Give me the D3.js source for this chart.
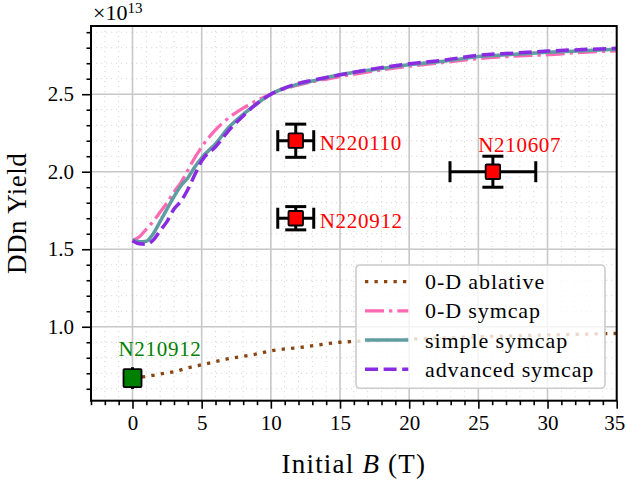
<!DOCTYPE html>
<html>
<head>
<meta charset="utf-8">
<script src="https://cdn.jsdelivr.net/npm/d3@7"></script>
<style>
  body { margin: 0; background: #fff; }
  text { font-family: "Liberation Serif", serif; }
</style>
</head>
<body>
<div id="chart"></div>
<script>
// field values (B in T), yields in units of 1e13
var bField = [0, 0.5, 1, 1.5, 2, 2.5, 3, 3.5, 4, 4.5, 5, 6, 7, 8, 9, 10, 11, 12, 13, 15, 17.5, 20, 22.5, 25, 27.5, 30, 32.5, 35];
var symcap0D = [1.555, 1.58, 1.63, 1.68, 1.74, 1.80, 1.87, 1.93, 2.01, 2.09, 2.16, 2.27, 2.35, 2.41, 2.46, 2.50, 2.535, 2.56, 2.58, 2.614, 2.65, 2.68, 2.705, 2.73, 2.745, 2.755, 2.77, 2.78];
var simpleSymcap = [1.56, 1.548, 1.552, 1.60, 1.68, 1.76, 1.84, 1.91, 1.96, 2.03, 2.09, 2.18, 2.29, 2.37, 2.44, 2.50, 2.54, 2.565, 2.585, 2.625, 2.66, 2.69, 2.712, 2.743, 2.757, 2.77, 2.78, 2.79];
var advSymcap = [1.555, 1.535, 1.532, 1.56, 1.62, 1.68, 1.76, 1.81, 1.885, 1.98, 2.07, 2.16, 2.27, 2.36, 2.44, 2.50, 2.54, 2.57, 2.59, 2.625, 2.665, 2.696, 2.72, 2.751, 2.765, 2.778, 2.788, 2.796];

var ablB = [0, 1, 2, 3, 4, 5, 6, 7, 8, 9, 10, 12, 15, 17.5, 20, 25, 30, 35];
var ablative0D = [0.67, 0.68, 0.695, 0.71, 0.735, 0.755, 0.775, 0.795, 0.81, 0.825, 0.845, 0.865, 0.90, 0.91, 0.92, 0.935, 0.947, 0.957];

// shots
var shotNames = ["N220110", "N220912", "N210607", "N210912"];
var shotB = [11.8, 11.8, 26.05, 0];
var shotY = [2.2, 1.7, 2.0, 0.669];
var shotBerr = [1.3, 1.3, 3.1, 0];
var shotYerr = [0.107, 0.075, 0.1, 0.07];
var shotColor = ["#ff0000", "#ff0000", "#ff0000", "#008000"];

var xTicks = [0, 5, 10, 15, 20, 25, 30, 35];
var yTicks = [1.0, 1.5, 2.0, 2.5];

var svgWidth = 626, svgHeight = 481;
var margin = {top: 26, right: 9.3, bottom: 80.3, left: 91};
var chartWidth = svgWidth - margin.left - margin.right;
var chartHeight = svgHeight - margin.top - margin.bottom;

var svg = d3.select("#chart").append("svg")
  .attr("width", svgWidth)
  .attr("height", svgHeight);

var chartGroup = svg.append("g")
  .attr("transform", `translate(${margin.left}, ${margin.top})`);

var xScale = d3.scaleLinear().domain([-3, 35]).range([0, chartWidth]);
var yScale = d3.scaleLinear().domain([0.523, 2.94]).range([chartHeight, 0]);

var xMinor = d3.range(-3, 36, 1);
var yMinor = d3.range(0.6, 2.95, 0.1);

// minor grid (dotted)
chartGroup.append("g").selectAll("line")
  .data(xMinor).enter().append("line")
  .attr("x1", d => xScale(d)).attr("x2", d => xScale(d))
  .attr("y1", 0).attr("y2", chartHeight)
  .attr("stroke", "#d8d8d8").attr("stroke-width", 1).attr("stroke-dasharray", "1.2,3.8");
chartGroup.append("g").selectAll("line")
  .data(yMinor).enter().append("line")
  .attr("x1", 0).attr("x2", chartWidth)
  .attr("y1", d => yScale(d)).attr("y2", d => yScale(d))
  .attr("stroke", "#d8d8d8").attr("stroke-width", 1).attr("stroke-dasharray", "1.2,3.8");

// major grid
chartGroup.append("g").selectAll("line")
  .data(xTicks).enter().append("line")
  .attr("x1", d => xScale(d)).attr("x2", d => xScale(d))
  .attr("y1", 0).attr("y2", chartHeight)
  .attr("stroke", "#c8c8c8").attr("stroke-width", 1.6);
chartGroup.append("g").selectAll("line")
  .data(yTicks).enter().append("line")
  .attr("x1", 0).attr("x2", chartWidth)
  .attr("y1", d => yScale(d)).attr("y2", d => yScale(d))
  .attr("stroke", "#c8c8c8").attr("stroke-width", 1.6);

// clip for curves
svg.append("defs").append("clipPath").attr("id", "clip")
  .append("rect").attr("width", chartWidth).attr("height", chartHeight);

var plotArea = chartGroup.append("g").attr("clip-path", "url(#clip)");

var series = [
  {name: "0-D ablative", xs: ablB, ys: ablative0D, color: "#8b4513", width: 3.3, dash: "3.3,6.2"},
  {name: "0-D symcap", xs: bField, ys: symcap0D, color: "#ff69b4", width: 3.3, dash: "19,5,3.3,5"},
  {name: "simple symcap", xs: bField, ys: simpleSymcap, color: "#5f9ea0", width: 3.5, dash: null},
  {name: "advanced symcap", xs: bField, ys: advSymcap, color: "#8a2be2", width: 3.5, dash: "13,5.6"}
];

var line = d3.line()
  .x(d => xScale(d[0]))
  .y(d => yScale(d[1]))
  .curve(d3.curveMonotoneX);

series.forEach(function(s) {
  plotArea.append("path")
    .datum(s.xs.map((x, i) => [x, s.ys[i]]))
    .attr("d", line)
    .attr("fill", "none")
    .attr("stroke", s.color)
    .attr("stroke-width", s.width)
    .attr("stroke-dasharray", s.dash);
});

// error bars + markers
var shots = shotNames.map((n, i) => ({name: n, b: shotB[i], y: shotY[i], be: shotBerr[i], ye: shotYerr[i], color: shotColor[i]}));
var cap = 10.5;
shots.forEach(function(s) {
  var g = chartGroup.append("g");
  var cx = xScale(s.b), cy = yScale(s.y);
  if (s.be > 0) {
    g.append("line").attr("x1", xScale(s.b - s.be)).attr("x2", xScale(s.b + s.be))
      .attr("y1", cy).attr("y2", cy).attr("stroke", "#000").attr("stroke-width", 3);
    [s.b - s.be, s.b + s.be].forEach(function(v) {
      g.append("line").attr("x1", xScale(v)).attr("x2", xScale(v))
        .attr("y1", cy - cap).attr("y2", cy + cap).attr("stroke", "#000").attr("stroke-width", 3);
    });
  }
  g.append("line").attr("x1", cx).attr("x2", cx)
    .attr("y1", yScale(s.y - s.ye)).attr("y2", yScale(s.y + s.ye)).attr("stroke", "#000").attr("stroke-width", 3);
  if (s.be > 0) {
    [s.y - s.ye, s.y + s.ye].forEach(function(v) {
      g.append("line").attr("x1", cx - cap).attr("x2", cx + cap)
        .attr("y1", yScale(v)).attr("y2", yScale(v)).attr("stroke", "#000").attr("stroke-width", 3);
    });
  }
  var sz = s.color == "#008000" ? 18 : 14.5;
  g.append("rect")
    .attr("x", cx - sz / 2).attr("y", cy - sz / 2)
    .attr("width", sz).attr("height", sz)
    .attr("rx", 1)
    .attr("fill", s.color).attr("stroke", "#000").attr("stroke-width", 1.8);
});

// shot labels
var labelPos = {
  "N220110": [24, 9.5],
  "N220912": [24, 9.5],
  "N210607": [-14.7, -20],
  "N210912": [-14, -22]
};
shots.forEach(function(s) {
  var p = labelPos[s.name];
  chartGroup.append("text")
    .attr("x", xScale(s.b) + p[0])
    .attr("y", yScale(s.y) + p[1])
    .attr("fill", s.color)
    .attr("font-size", 21)
    .attr("letter-spacing", 0.7)
    .text(s.name);
});

// axes
var xAxis = d3.axisBottom(xScale).tickValues(xTicks).tickSize(8).tickPadding(6).tickFormat(d3.format("d"));
var yAxis = d3.axisLeft(yScale).tickValues(yTicks).tickSize(9).tickPadding(8).tickFormat(d3.format(".1f"));
var xAxisMinor = d3.axisBottom(xScale).tickValues(xMinor.filter(d => xTicks.indexOf(d) < 0)).tickSize(4.5).tickFormat("");
var yAxisMinor = d3.axisLeft(yScale).tickValues(yMinor.filter(d => Math.abs(d * 2 - Math.round(d * 2)) > 0.01)).tickSize(4.5).tickFormat("");

function styleAxis(g) {
  g.select(".domain").remove();
  g.selectAll("line").attr("stroke", "#000").attr("stroke-width", 1.6);
  g.selectAll("text").attr("font-family", "Liberation Serif").attr("font-size", 21).attr("fill", "#000");
}

var xg = chartGroup.append("g").attr("transform", `translate(0, ${chartHeight})`).call(xAxis).call(styleAxis);
// last label sits right on the page edge, pull it in a touch
xg.selectAll(".tick text").filter(d => d == 35).attr("dx", -2.5);
chartGroup.append("g").attr("transform", `translate(0, ${chartHeight})`).call(xAxisMinor).call(styleAxis);
chartGroup.append("g").call(yAxis).call(styleAxis);
chartGroup.append("g").call(yAxisMinor).call(styleAxis);

// frame
chartGroup.append("rect")
  .attr("width", chartWidth).attr("height", chartHeight)
  .attr("fill", "none").attr("stroke", "#000").attr("stroke-width", 2);

// legend
var legend = chartGroup.append("g").attr("transform", `translate(${356 - margin.left}, ${265 - margin.top})`);
legend.append("rect")
  .attr("width", 249).attr("height", 123.3).attr("rx", 4)
  .attr("fill", "#fff").attr("fill-opacity", 0.8)
  .attr("stroke", "#cccccc").attr("stroke-width", 1.6);
series.forEach(function(s, i) {
  var ly = 16.7 + i * 29.2;
  legend.append("line")
    .attr("x1", 9).attr("x2", 52.3).attr("y1", ly).attr("y2", ly)
    .attr("stroke", s.color).attr("stroke-width", s.width)
    .attr("stroke-dasharray", s.dash);
  legend.append("text")
    .attr("x", 69).attr("y", ly + 7.5)
    .attr("font-size", 22).attr("letter-spacing", 0.9)
    .text(s.name);
});

// axis titles
svg.append("text")
  .attr("x", margin.left + chartWidth / 2).attr("y", 473)
  .attr("text-anchor", "middle").attr("font-size", 27).attr("letter-spacing", 1.2)
  .html('Initial <tspan font-style="italic">B</tspan> (T)');
svg.append("text")
  .attr("transform", `translate(26, ${margin.top + chartHeight / 2}) rotate(-90)`)
  .attr("text-anchor", "middle").attr("font-size", 27).attr("letter-spacing", 0.5)
  .text("DDn Yield");

// offset text
var off = svg.append("text").attr("x", 93).attr("y", 19.5).attr("font-size", 22);
off.append("tspan").text("\u00d710");
off.append("tspan").attr("dy", -7).attr("font-size", 15).text("13");
</script>
</body>
</html>
